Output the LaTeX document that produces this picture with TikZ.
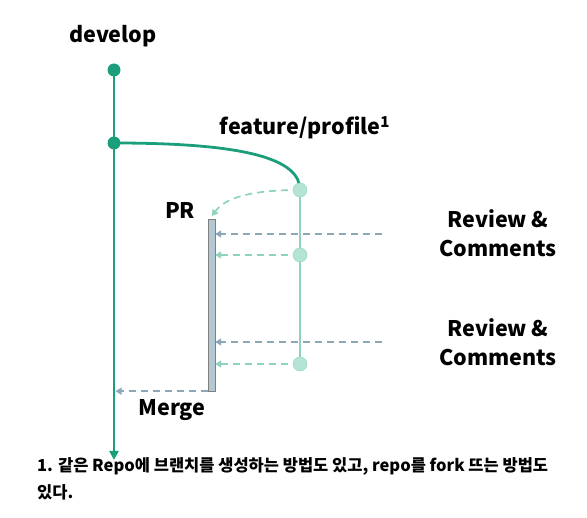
\documentclass[tikz,border=0pt]{standalone}
\usepackage{fontspec}
\setmainfont{Noto Sans CJK KR}
\usetikzlibrary{arrows.meta}
\definecolor{devgreen}{HTML}{1A9E7C}
\definecolor{featgreen}{HTML}{8ED3BE}
\definecolor{dotgreen}{HTML}{B5E3D5}
\definecolor{revblue}{HTML}{8CA8B8}
\definecolor{prfill}{HTML}{B4C8D2}

\begin{document}
\begin{tikzpicture}[x=1pt, y=-1pt,
    label/.style={font=\fontsize{21.5}{29}\selectfont\bfseries, align=center},
    dashline/.style={line width=1.7pt, dash pattern=on 7pt off 5pt, -{Triangle[length=6pt, width=7pt]}}]
    \useasboundingbox (0,0) rectangle (587,518);

    % Coordinates for the commits
    \coordinate (D1) at (114, 70);    % develop start
    \coordinate (D2) at (114, 143);   % branch point
    \coordinate (DEnd) at (114, 460); % develop end
    \coordinate (F1) at (300, 190);   % first feature commit
    \coordinate (F2) at (300, 255);   % second feature commit
    \coordinate (F3) at (300, 364);   % third feature commit
    \coordinate (R1) at (382, 234);   % first review
    \coordinate (R2) at (382, 342);   % second review
    \coordinate (PRin) at (212, 216); % PR opening

    % PR bar
    \node (PR) [draw=gray, fill=prfill, minimum width=7, minimum height=172, inner sep=0] at (211.5, 305) {};

    % Draw the branches
    \draw[devgreen, line width=2.8pt, -{Triangle[length=9pt, width=9pt]}] (D1) -- (DEnd);
    \draw[devgreen, line width=2.8pt] (D2) .. controls (250, 143) and (300, 160) .. (F1);
    \draw[featgreen, line width=2.8pt] (F1) -- (F3);

    % Draw the dashed connectors
    \draw[featgreen, dashline] (F1) .. controls (250, 190) and (225, 198) .. (PRin);
    \draw[revblue, dashline] (R1) -- (R1 -| PR.east);
    \draw[featgreen, dashline] (F2) -- (F2 -| PR.east);
    \draw[revblue, dashline] (R2) -- (R2 -| PR.east);
    \draw[featgreen, dashline] (F3) -- (F3 -| PR.east);
    \draw[revblue, dashline, shorten >=1.5pt] (PR.south west) -- (PR.south west -| D2);

    % Draw the commits
    \fill[devgreen] (D1) circle (6.5);
    \fill[devgreen] (D2) circle (6.5);
    \filldraw[fill=dotgreen, draw=featgreen] (F1) circle (7);
    \filldraw[fill=dotgreen, draw=featgreen] (F2) circle (7);
    \filldraw[fill=dotgreen, draw=featgreen] (F3) circle (7);

    % Labels
    \node[label] (develop) at (113, 36) {develop};
    \node[label] (feature) at (305, 128) {feature/profile\textsuperscript{1}};
    \node[label] (prlabel) at (180, 210) {PR};
    \node[label] (merge) at (172, 410) {Merge};
    \node[label] (review1) at (498, 233) {Review \&\\Comments};
    \node[label] (review2) at (498, 342) {Review \&\\Comments};
    \node[font=\fontsize{16.5}{27.5}\selectfont\bfseries, align=left, anchor=north west, inner sep=0] (note) at (37, 457)
        {1. 같은 Repo에 브랜치를 생성하는 방법도 있고, repo를 fork 뜨는 방법도\\있다.};

\end{tikzpicture}
\end{document}
